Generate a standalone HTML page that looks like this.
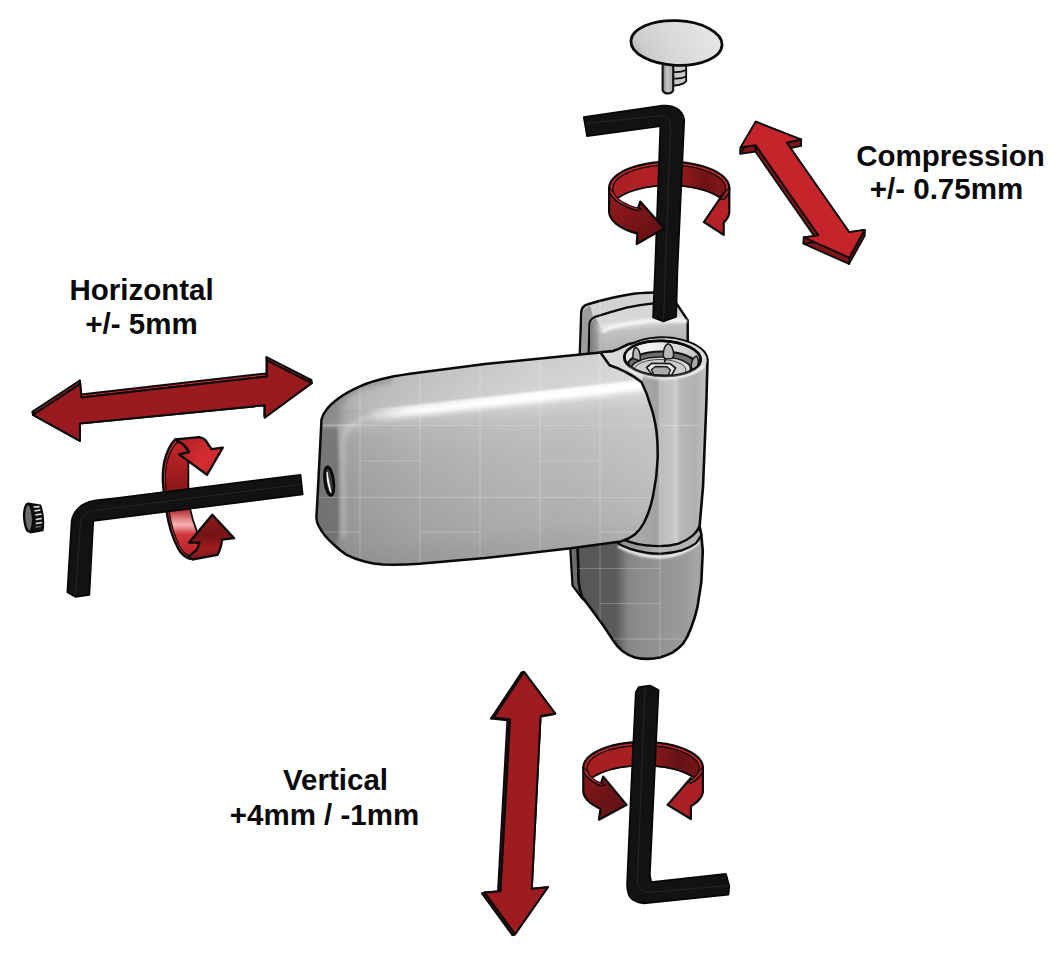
<!DOCTYPE html>
<html>
<head>
<meta charset="utf-8">
<title>Hinge adjustment</title>
<style>
html,body{margin:0;padding:0;background:#fff;}
body{width:1061px;height:961px;overflow:hidden;}
svg{display:block;}
.lbl{font-family:"Liberation Sans",sans-serif;font-weight:bold;font-size:29.5px;fill:#0a0a0a;text-anchor:middle;}
</style>
</head>
<body>
<svg width="1061" height="961" viewBox="0 0 1061 961">
<defs>
  <filter id="b1" x="-20%" y="-20%" width="140%" height="140%"><feGaussianBlur stdDeviation="0.9"/></filter>
  <filter id="b15" x="-30%" y="-30%" width="160%" height="160%"><feGaussianBlur stdDeviation="1.4"/></filter>
  <filter id="b2" x="-30%" y="-30%" width="160%" height="160%"><feGaussianBlur stdDeviation="2.2"/></filter>
  <filter id="b3" x="-30%" y="-30%" width="160%" height="160%"><feGaussianBlur stdDeviation="4"/></filter>
  <path id="leafPath" d="M600.4,352.6 L485,364.1 L419.5,372.6 Q400,375 385.1,378.3 Q371,381.5 360,386.3 Q348,391.5 339.3,397.8 Q331,404 326.8,409.2 Q322.5,414.5 321.5,419.5 L318.7,474.5 L316.4,518 Q316.8,522.5 318.7,526 Q324,536.5 334.8,545.5 Q340,550.5 346.2,554.6 Q354,558.8 364.5,561.5 Q373,563.8 382.9,564.5 Q400,565 419.5,563.8 L485,558.1 L570.7,548.2 L621,541.4 Q629,539 634.8,534.5 Q640,530 643.9,523 Q650,511 653.1,495.6 Q657,477 657.6,459 Q658,444 656.5,431.5 Q654.5,417 650.8,406.4 Q647,393 641.6,382.3 Q634,376 625.6,372 Q617,367.5 609.6,365.2 Z"/>
  <clipPath id="cLeaf"><use href="#leafPath"/></clipPath>
  <clipPath id="cHingeR"><path d="M623.1,356.3 A42.3,21 3 0 1 707.5,360.7 L706.3,405 L703,487 L699.6,526 Q697,533.6 685.5,542 Q676,546.7 666.8,546.7 Q652,547 638.7,544.8 Q630,543 623.7,540 L640,480 Z"/><path d="M579.8,356 L581.3,311.5 Q582,305.8 588,304.3 Q600,300.5 612.4,297.7 Q624,295 633.6,293.7 Q645,292.3 667,292.2 L676.6,303.9 L687.6,320.4 L687.6,356 Z"/><path d="M577.5,540 L578.7,582.4 Q579.5,590 581.9,596.5 L591.2,609 L603.7,626.1 L613.1,640.2 Q617,646.5 622.4,651.1 Q628,655.5 634.9,657.4 Q641,658.9 647.4,658.9 Q654,658.6 659.9,657.4 Q667,655.5 672.4,652.7 Q678.5,648.8 683.3,643.3 Q688,636.5 691.1,627.7 Q695,618 697.4,607.4 L701.3,582.4 L702.8,551.2 L701.3,534.8 L699.6,526 L640,526 Z"/></clipPath>
  <clipPath id="cBore"><ellipse cx="662.5" cy="358.4" rx="38.2" ry="17.5" transform="rotate(2.5 662.5 358.4)"/></clipPath>
  <clipPath id="cLow"><path d="M577.5,540 L578.7,582.4 Q579.5,590 581.9,596.5 L591.2,609 L603.7,626.1 L613.1,640.2 Q617,646.5 622.4,651.1 Q628,655.5 634.9,657.4 Q641,658.9 647.4,658.9 Q654,658.6 659.9,657.4 Q667,655.5 672.4,652.7 Q678.5,648.8 683.3,643.3 Q688,636.5 691.1,627.7 Q695,618 697.4,607.4 L701.3,582.4 L702.8,551.2 L701.3,534.8 L699.6,526 L640,526 Z"/></clipPath>
  <linearGradient id="gLeaf" gradientUnits="userSpaceOnUse" x1="470" y1="367.5" x2="491" y2="558">
    <stop offset="0" stop-color="#cecece"/>
    <stop offset="0.155" stop-color="#d4d4d4"/>
    <stop offset="0.17" stop-color="#f8f8f8"/>
    <stop offset="0.195" stop-color="#ffffff"/>
    <stop offset="0.215" stop-color="#e8e8e8"/>
    <stop offset="0.245" stop-color="#cfcfcf"/>
    <stop offset="0.30" stop-color="#c3c3c3"/>
    <stop offset="0.45" stop-color="#bbbbbb"/>
    <stop offset="0.65" stop-color="#b5b5b5"/>
    <stop offset="0.85" stop-color="#adadad"/>
    <stop offset="0.95" stop-color="#a5a5a5"/>
    <stop offset="0.985" stop-color="#a3a3a3"/>
    <stop offset="1" stop-color="#b8b8b8"/>
  </linearGradient>
  <linearGradient id="gLeafL" gradientUnits="userSpaceOnUse" x1="320" y1="0" x2="540" y2="0">
    <stop offset="0" stop-color="#000" stop-opacity="0.2"/>
    <stop offset="0.18" stop-color="#000" stop-opacity="0.13"/>
    <stop offset="0.4" stop-color="#000" stop-opacity="0.08"/>
    <stop offset="0.7" stop-color="#000" stop-opacity="0.035"/>
    <stop offset="1" stop-color="#000" stop-opacity="0"/>
  </linearGradient>
  <linearGradient id="gHLw" gradientUnits="userSpaceOnUse" x1="366" y1="0" x2="425" y2="0">
    <stop offset="0" stop-color="#fff" stop-opacity="0"/>
    <stop offset="0.5" stop-color="#fff" stop-opacity="0.55"/>
    <stop offset="1" stop-color="#fff" stop-opacity="1"/>
  </linearGradient>
  <linearGradient id="gHLfade" gradientUnits="userSpaceOnUse" x1="340" y1="0" x2="404" y2="0">
    <stop offset="0" stop-color="#a8a8a8" stop-opacity="1"/>
    <stop offset="0.45" stop-color="#b4b4b4" stop-opacity="0.85"/>
    <stop offset="0.78" stop-color="#c8c8c8" stop-opacity="0.4"/>
    <stop offset="1" stop-color="#d4d4d4" stop-opacity="0"/>
  </linearGradient>
  <linearGradient id="gLeafR" gradientUnits="userSpaceOnUse" x1="560" y1="0" x2="660" y2="0">
    <stop offset="0" stop-color="#fff" stop-opacity="0"/>
    <stop offset="1" stop-color="#fff" stop-opacity="0.16"/>
  </linearGradient>
  <linearGradient id="gCyl" gradientUnits="userSpaceOnUse" x1="622" y1="0" x2="709" y2="0">
    <stop offset="0" stop-color="#b0b0b0"/>
    <stop offset="0.40" stop-color="#a2a2a2"/>
    <stop offset="0.45" stop-color="#bcbcbc"/>
    <stop offset="0.57" stop-color="#c5c5c5"/>
    <stop offset="0.62" stop-color="#d0d0d0"/>
    <stop offset="0.67" stop-color="#b7b7b7"/>
    <stop offset="0.85" stop-color="#b1b1b1"/>
    <stop offset="0.93" stop-color="#bbbbbb"/>
    <stop offset="1" stop-color="#c4c4c4"/>
  </linearGradient>
  <linearGradient id="gLow" gradientUnits="userSpaceOnUse" x1="577" y1="0" x2="704" y2="0">
    <stop offset="0" stop-color="#565656"/>
    <stop offset="0.31" stop-color="#5b5b5b"/>
    <stop offset="0.40" stop-color="#848484"/>
    <stop offset="0.5" stop-color="#8d8d8d"/>
    <stop offset="0.65" stop-color="#939393"/>
    <stop offset="0.85" stop-color="#9b9b9b"/>
    <stop offset="0.95" stop-color="#a6a6a6"/>
    <stop offset="1" stop-color="#9a9a9a"/>
  </linearGradient>
  <linearGradient id="gRim" gradientUnits="userSpaceOnUse" x1="617" y1="0" x2="702" y2="0">
    <stop offset="0" stop-color="#8e8e8e"/>
    <stop offset="0.4" stop-color="#a4a4a4"/>
    <stop offset="0.55" stop-color="#b6b6b6"/>
    <stop offset="1" stop-color="#b0b0b0"/>
  </linearGradient>
  <linearGradient id="gPlate" gradientUnits="userSpaceOnUse" x1="630" y1="305" x2="636" y2="356">
    <stop offset="0" stop-color="#d9d9d9"/>
    <stop offset="0.26" stop-color="#d5d5d5"/>
    <stop offset="0.36" stop-color="#e6e6e6"/>
    <stop offset="0.5" stop-color="#c0c0c0"/>
    <stop offset="1" stop-color="#acacac"/>
  </linearGradient>
  <linearGradient id="gPlateL" gradientUnits="userSpaceOnUse" x1="590" y1="0" x2="604" y2="0">
    <stop offset="0" stop-color="#767676"/>
    <stop offset="0.5" stop-color="#8e8e8e" stop-opacity="0.7"/>
    <stop offset="1" stop-color="#b0b0b0" stop-opacity="0"/>
  </linearGradient>
  <linearGradient id="gBore" gradientUnits="userSpaceOnUse" x1="624" y1="0" x2="701" y2="0">
    <stop offset="0" stop-color="#e2e2e2"/>
    <stop offset="0.35" stop-color="#f4f4f4"/>
    <stop offset="0.6" stop-color="#dedede"/>
    <stop offset="1" stop-color="#c2c2c2"/>
  </linearGradient>
  <linearGradient id="gCap" gradientUnits="userSpaceOnUse" x1="640" y1="62" x2="710" y2="22">
    <stop offset="0" stop-color="#b4b4b4"/>
    <stop offset="0.12" stop-color="#cdcdcd"/>
    <stop offset="0.5" stop-color="#dadada"/>
    <stop offset="1" stop-color="#e6e6e6"/>
  </linearGradient>
  <linearGradient id="gStem" gradientUnits="userSpaceOnUse" x1="662" y1="0" x2="674" y2="0">
    <stop offset="0" stop-color="#7c7c7c"/><stop offset="0.45" stop-color="#c6c6c6"/><stop offset="1" stop-color="#9a9a9a"/>
  </linearGradient>
  <linearGradient id="gRingL" gradientUnits="userSpaceOnUse" x1="0" y1="440" x2="0" y2="558">
    <stop offset="0" stop-color="#c4252a"/>
    <stop offset="0.2" stop-color="#ad1f23"/>
    <stop offset="0.42" stop-color="#8c181b"/>
    <stop offset="0.58" stop-color="#a51e22"/>
    <stop offset="0.68" stop-color="#ea8e8e"/>
    <stop offset="0.72" stop-color="#f3b4b4"/>
    <stop offset="0.8" stop-color="#d0353a"/>
    <stop offset="1" stop-color="#b32024"/>
  </linearGradient>
  <linearGradient id="gRingLT" gradientUnits="userSpaceOnUse" x1="185" y1="445" x2="215" y2="470">
    <stop offset="0" stop-color="#b92227"/><stop offset="0.5" stop-color="#d32b31"/><stop offset="1" stop-color="#cf2a2f"/>
  </linearGradient>
  <linearGradient id="gRingLB" gradientUnits="userSpaceOnUse" x1="0" y1="515" x2="0" y2="560">
    <stop offset="0" stop-color="#8e191c"/><stop offset="0.45" stop-color="#741417"/><stop offset="0.75" stop-color="#9e1c20"/><stop offset="1" stop-color="#801619"/>
  </linearGradient>
  <linearGradient id="gRingT" gradientUnits="userSpaceOnUse" x1="608" y1="0" x2="729" y2="0">
    <stop offset="0" stop-color="#a81f22"/>
    <stop offset="0.45" stop-color="#b42125"/>
    <stop offset="0.8" stop-color="#6e1316"/>
    <stop offset="1" stop-color="#8a171a"/>
  </linearGradient>
  <linearGradient id="gRingB" gradientUnits="userSpaceOnUse" x1="583" y1="0" x2="703" y2="0">
    <stop offset="0" stop-color="#a81f22"/>
    <stop offset="0.4" stop-color="#a81f22"/>
    <stop offset="0.8" stop-color="#641215"/>
    <stop offset="1" stop-color="#7a1518"/>
  </linearGradient>
  <linearGradient id="gFLT" gradientUnits="userSpaceOnUse" x1="610" y1="195" x2="660" y2="235">
    <stop offset="0" stop-color="#951b1e"/><stop offset="0.5" stop-color="#7c1518"/><stop offset="1" stop-color="#621114"/>
  </linearGradient>
  <linearGradient id="gFLB" gradientUnits="userSpaceOnUse" x1="584" y1="775" x2="625" y2="812">
    <stop offset="0" stop-color="#8c181b"/><stop offset="0.5" stop-color="#6f1417"/><stop offset="1" stop-color="#5e1113"/>
  </linearGradient>
</defs>
<rect width="1061" height="961" fill="#fff"/>

<g id="hinge" stroke-linejoin="round">
  <!-- back plate top -->
  <path d="M579.8,356 L581.3,311.5 Q582,305.8 588,304.3 Q600,300.5 612.4,297.7 Q624,295 633.6,293.7 Q645,292.3 667,292.2 L676.6,303.9 L687.6,320.4 L687.6,356 Z" fill="#d2d2d2" stroke="#0a0a0a" stroke-width="2.5"/>
  <path d="M581.3,356 L582.5,313 Q584,307 590.5,306 L593,317 Q590,319 589.6,323 L588.6,356 Z" fill="#9c9c9c"/>
  <path d="M588.6,356 L589.5,323.5 Q590,319 596,316.6 Q610,312 626.6,307.6 Q640,304.7 653.4,303.3 L676.6,303.9 L687.6,320.4 L687.6,356 Z" fill="url(#gPlate)" stroke="#0a0a0a" stroke-width="2.2"/>
  <path d="M589.8,356 L590.6,324 Q591,320.5 596,318.5 L604,332 L603,356 Z" fill="url(#gPlateL)"/>
  <path d="M603,331.5 Q606,329 614,326.8 Q632,322.5 654.8,320.3 L686,321" fill="none" stroke="#f6f6f6" stroke-width="3" stroke-linecap="round" filter="url(#b1)"/>

  <!-- lower frame part -->
  <path d="M570.1,546 L572.5,585.6 L581.9,598 L585,601 L579,583 L577.5,546 Z" fill="#6c6c6c" stroke="#0a0a0a" stroke-width="2.2"/>
  <path d="M577.5,540 L578.7,582.4 Q579.5,590 581.9,596.5 L591.2,609 L603.7,626.1 L613.1,640.2 Q617,646.5 622.4,651.1 Q628,655.5 634.9,657.4 Q641,658.9 647.4,658.9 Q654,658.6 659.9,657.4 Q667,655.5 672.4,652.7 Q678.5,648.8 683.3,643.3 Q688,636.5 691.1,627.7 Q695,618 697.4,607.4 L701.3,582.4 L702.8,551.2 L701.3,534.8 L699.6,526 L640,526 Z" fill="url(#gLow)" stroke="#0a0a0a" stroke-width="2.6"/>
  <g clip-path="url(#cLow)">
    <path d="M618,546 Q640,557.5 662,557 Q684,555 699,542" fill="none" stroke="#f4f4f4" stroke-width="3" filter="url(#b1)"/>
  </g>

  <!-- cylinder -->
  <path d="M623.1,356.3 A42.3,21 3 0 1 707.5,360.7 L706.3,405 L703,487 L699.6,526 Q697,533.6 685.5,542 Q676,546.7 666.8,546.7 Q652,547 638.7,544.8 Q630,543 623.7,540 L640,480 Z" fill="url(#gCyl)" stroke="#0a0a0a" stroke-width="2.6"/>
  <!-- rim ring under cylinder -->
  <path d="M621,538 Q625,540.5 628.7,541.6 Q637,544.5 645.9,545.4 Q653,546.2 659.9,546.2 Q670,546 678.6,543.6 Q686,541 692.7,535.6 Q696.5,532.5 699.3,527.5 L701.3,534.8 Q699,539.5 695.8,543.4 Q689.5,548 681.8,550.4 Q672,553.2 661.5,553.6 Q654,553.8 647.4,552.8 Q638,551.5 630.2,548.9 Q623,546.5 617.8,543.4 Z" fill="url(#gRim)" stroke="#0a0a0a" stroke-width="2.2"/>

  <!-- collar between leaf top and cylinder ring -->
  <path d="M600,352.3 L612.9,351.1 Q618,349.5 622.7,346.8 Q628,343.5 634.6,342.8 L650,350 L641.6,382.3 L625.6,372 L609.6,365.2 Z" fill="#d9d9d9"/>
  <path d="M600,352.3 L612.9,351.1 Q618,349.5 622.7,346.8 Q628,343.8 634.6,342.8" fill="none" stroke="#0a0a0a" stroke-width="2.6" stroke-linecap="round"/>
  <path d="M634.6,342.8 A42.3,21 3 0 1 707.5,360.7" fill="none" stroke="#0a0a0a" stroke-width="2.1"/>

  <!-- leaf -->
  <g clip-path="url(#cLeaf)">
    <rect x="300" y="340" width="370" height="240" fill="url(#gLeaf)"/>
    <rect x="540" y="340" width="130" height="240" fill="url(#gLeafR)"/>
    <!-- left darkening -->
    <rect x="300" y="340" width="240" height="240" fill="url(#gLeafL)"/>
    <!-- highlight fades toward left -->
    <path d="M322,421.5 L404,411.4" fill="none" stroke="url(#gHLfade)" stroke-width="18" filter="url(#b1)"/>
    <!-- left end cap shading -->
    <path d="M300,429 L337.5,427 Q340.2,480 338.8,533 L335,556 L300,565 Z" fill="#5e5e5e" opacity="0.62" filter="url(#b15)"/>
    <path d="M300,396 L352,388 Q342,400 338.5,428 L300,430 Z" fill="#707070" opacity="0.5" filter="url(#b3)"/>
    <!-- top-left corner darker -->
    <path d="M319,424 Q326,404 348,392 Q366,384 392,378.5" fill="none" stroke="#8a8a8a" stroke-width="8" opacity="0.5" filter="url(#b2)"/>
    <!-- edge highlight between cap and front -->
    <path d="M380,415 Q360,418 350,427 Q343,433 342.5,446 L343.5,538" fill="none" stroke="#fff" stroke-width="5" opacity="0.24" filter="url(#b2)"/>
    <!-- highlight brighter toward the cylinder -->
    <path d="M366,417 L396,413 L560,394.6 Q610,389 642,384" fill="none" stroke="url(#gHLw)" stroke-width="7.5" opacity="0.85" filter="url(#b2)"/>
  </g>
  <g clip-path="url(#cLeaf)" stroke="#fff" stroke-width="0.8" opacity="0.32" fill="none">
    <path d="M360,340V600M420,340V600M480,340V600M540,340V600M600,340V600M660,340V600"/>
    <path d="M300,425.4H670M300,497.5H670" opacity="0.8"/>
    <path d="M360,461H420M540,461H600M420,532H480M600,532H660M300,532H360"/>
  </g>
  <use href="#leafPath" fill="none" stroke="#0a0a0a" stroke-width="2.5"/>

  <g id="gridR" clip-path="url(#cHingeR)" stroke="#fff" stroke-width="0.8" opacity="0.32" fill="none">
    <path d="M600,290V360M660,380V660M600,545V640"/>
    <path d="M600,318.2H660M570,568.4H660M600,603.6H660M613,639H686M660,425.4H700"/>
  </g>
  <!-- hole in leaf end -->
  <g transform="rotate(-7.5 329.2 481.2)">
    <ellipse cx="329.2" cy="481.2" rx="4.3" ry="14.3" fill="#3e3e3e" stroke="#0a0a0a" stroke-width="2.9"/>
    <path d="M327.7,471.5 Q326.3,481 328,489.5 Q328.8,493 330.2,493.6 Q329.6,488 329.2,482 Q328.8,476 328.9,471.8 Z" fill="#fdfdfd"/>
  </g>

  <!-- cylinder top details -->
  <g id="cyltop">
    <ellipse cx="665.3" cy="358.5" rx="41.5" ry="20.2" transform="rotate(3 665.3 358.5)" fill="#dbdbdb"/>
    <ellipse cx="662.5" cy="358.4" rx="38.2" ry="17.5" transform="rotate(2.5 662.5 358.4)" fill="url(#gBore)" stroke="#0a0a0a" stroke-width="2.4"/>
    <g clip-path="url(#cBore)">
      <ellipse cx="662" cy="365.5" rx="34.5" ry="14" fill="#6e6e6e" stroke="#111" stroke-width="2.2"/>
      <ellipse cx="661" cy="368.5" rx="29.5" ry="11.5" fill="#dcdcdc" stroke="#1a1a1a" stroke-width="1.6"/>
      <ellipse cx="660" cy="370" rx="26" ry="10.5" fill="#cdcdcd" stroke="#444" stroke-width="1"/>
      <!-- hex nut -->
      <path d="M646.6,367.5 L652,363.2 L670,363.6 L675.6,368 L671.5,375.3 L652.5,375.3 Z" fill="#e9e9e9" stroke="#1a1a1a" stroke-width="1.6"/>
      <path d="M651.5,369.5 L655.5,366.5 L667,366.8 L670.5,370 L668,375.5 L654,375.5 Z" fill="#a9a9a9" stroke="#1a1a1a" stroke-width="1.4"/>
      <path d="M664.5,362.5 L666.5,356" stroke="#1a1a1a" stroke-width="1.8" fill="none"/>
      <!-- prongs -->
      <path d="M633,358.5 Q632.2,349 636,347.3 Q640,349.5 640.4,357.5 L640,361 Z" fill="#b5b5b5" stroke="#1a1a1a" stroke-width="1.5"/>
      <path d="M663.3,356.5 Q663,345.5 668.3,343.8 Q673.5,345.5 673.6,356 L672,358.5 L665,358.8 Z" fill="#b9b9b9" stroke="#1a1a1a" stroke-width="1.5"/>
      <path d="M691,367 Q691.5,358 696.5,356 Q699.5,359.5 697.5,367 L694.5,371 Z" fill="#a9a9a9" stroke="#1a1a1a" stroke-width="1.5"/>
    </g>
    <ellipse cx="662.5" cy="358.4" rx="38.2" ry="17.5" transform="rotate(2.5 662.5 358.4)" fill="none" stroke="#0a0a0a" stroke-width="2.6"/>
    <!-- front rim soft highlight -->
    <path d="M628,368 Q640,377.5 663,378.6 Q690,378 704,366" fill="none" stroke="#f2f2f2" stroke-width="2.2" filter="url(#b1)"/>
  </g>
</g>



<!-- ===== cap (top) ===== -->
<g id="cap" stroke="#0a0a0a" stroke-linejoin="round">
  <path d="M673.2,65 L686.2,65 L686.2,81 Q684,84.5 675,85.5 L673.2,85.5 Z" fill="#c9c9c9" stroke-width="1.8"/>
  <path d="M673.5,72 Q681,72.5 686,70 M673.5,78.5 Q681,79 686,76.5" fill="none" stroke-width="1.6"/>
  <path d="M662.6,63 L662.6,90.5 Q664,93.5 668,93.6 Q672,93.5 673.2,90.5 L673.2,63 Z" fill="url(#gStem)" stroke-width="2"/>
  <ellipse cx="676.5" cy="43" rx="45.6" ry="22.3" transform="rotate(2.5 676.5 43)" fill="url(#gCap)" stroke-width="2.8"/>
</g>

<!-- ===== top rotation ring (back part) ===== -->
<g stroke-linejoin="round"><path d="M609.1,188.0 L609.6,184.6 L611.1,181.2 L613.7,178.0 L617.2,174.9 L621.5,172.1 L626.7,169.5 L632.6,167.2 L639.1,165.3 L646.2,163.8 L653.6,162.7 L661.4,162.0 L669.2,161.8 L677.0,162.0 L684.8,162.7 L692.2,163.8 L699.2,165.3 L705.8,167.2 L711.7,169.5 L716.9,172.1 L721.2,174.9 L724.7,178.0 L727.3,181.2 L728.8,184.6 L729.3,188.0 L729.3,188.0 L728.9,191.0 L727.7,194.0 L725.7,196.9 L723.0,199.7 L723.0,199.7 L720.3,197.6 L717.1,195.6 L713.6,193.7 L709.7,192.0 L705.4,190.5 L700.8,189.1 L696.0,187.9 L690.9,187.0 L685.6,186.2 L680.2,185.6 L674.7,185.3 L669.2,185.2 L663.7,185.3 L658.2,185.6 L652.8,186.2 L647.5,187.0 L642.4,187.9 L637.6,189.1 L633.0,190.5 L628.7,192.0 L624.8,193.7 L621.3,195.6 L618.1,197.6 L615.4,199.7 L615.4,199.7 L612.7,196.9 L610.7,194.0 L609.5,191.0 L609.1,188.0 Z" fill="#c9282d" stroke="#0a0a0a" stroke-width="2.2"/>
<path d="M612.7,188.6 L613.2,185.5 L614.6,182.5 L617.0,179.6 L620.3,176.8 L624.4,174.3 L629.2,172.0 L634.8,170.0 L641.0,168.2 L647.6,166.9 L654.6,165.9 L661.8,165.3 L669.2,165.1 L676.6,165.3 L683.8,165.9 L690.8,166.9 L697.5,168.2 L703.6,170.0 L709.2,172.0 L714.0,174.3 L718.1,176.8 L721.4,179.6 L723.8,182.5 L725.2,185.5 L725.7,188.6 L723.0,199.7 L723.0,199.7 L720.3,197.6 L717.1,195.6 L713.6,193.7 L709.7,192.0 L705.4,190.5 L700.8,189.1 L696.0,187.9 L690.9,187.0 L685.6,186.2 L680.2,185.6 L674.7,185.3 L669.2,185.2 L663.7,185.3 L658.2,185.6 L652.8,186.2 L647.5,187.0 L642.4,187.9 L637.6,189.1 L633.0,190.5 L628.7,192.0 L624.8,193.7 L621.3,195.6 L618.1,197.6 L615.4,199.7 L615.4,199.7 Z" fill="url(#gRingT)" stroke="#0a0a0a" stroke-width="1.3"/></g>

<!-- ===== allen key top ===== -->
<g id="keyT" stroke="#050505" stroke-width="1.6" stroke-linejoin="round" fill="#121212">
  <path d="M583.7,117 L662.3,105.5 Q672,105 677.3,108.7 Q683.5,113 684.3,120 L677.5,270 L676.2,316.8 L663.5,321.6 L653,317.6 L655,270 L660.3,126.2 L587,136.2 Z"/>
  <path d="M585.5,123.5 L662,115.5 Q670.5,116 670.5,127 L663.5,321" fill="none" stroke="#262626" stroke-width="1"/>
</g>

<g stroke-linejoin="round"><path d="M609.1,188.0 L609.4,190.6 L610.3,193.3 L611.9,195.8 L614.0,198.3 L616.6,200.7 L619.8,203.0 L623.6,205.1 L627.8,207.0 L632.4,208.7 L637.4,210.2 L640.2,201.6 L664.3,228.4 L636.7,244.0 L637.4,233.6 L632.4,232.1 L627.8,230.4 L623.6,228.5 L619.8,226.4 L616.6,224.1 L614.0,221.7 L611.9,219.2 L610.3,216.7 L609.4,214.0 L609.1,211.4 Z" fill="url(#gFLT)" stroke="#0a0a0a" stroke-width="2.2"/>
<path d="M609.1,188.0 L609.4,190.6 L610.3,193.3 L611.9,195.8 L614.0,198.3 L616.6,200.7 L619.8,203.0 L623.6,205.1 L627.8,207.0 L632.4,208.7 L637.4,210.2 L641.8,209.2 L637.4,208.0 L633.2,206.7 L629.3,205.2 L625.8,203.6 L622.6,201.9 L619.9,200.1 L617.5,198.1 L615.7,196.1 L614.2,194.0 L613.2,191.9 Z" fill="#c9282d" stroke="#0a0a0a" stroke-width="1.1"/>
<path d="M729.3,188.0 L729.2,189.1 L729.1,190.3 L728.8,191.4 L728.4,192.5 L727.9,193.7 L727.3,194.8 L726.5,195.9 L725.7,197.0 L724.7,198.0 L723.7,199.1 L723.7,193.0 L703.9,222.0 L723.7,234.8 L723.7,222.5 L724.7,221.4 L725.7,220.4 L726.5,219.3 L727.3,218.2 L727.9,217.1 L728.4,215.9 L728.8,214.8 L729.1,213.7 L729.2,212.5 L729.3,211.4 Z" fill="#b52226" stroke="#0a0a0a" stroke-width="2.2"/>
<path d="M729.3,188.0 L729.2,189.1 L729.1,190.3 L728.8,191.4 L728.4,192.5 L727.9,193.7 L727.3,194.8 L726.5,195.9 L725.7,197.0 L724.7,198.0 L723.7,199.1 L719.1,199.6 L720.0,198.9 L720.8,198.2 L721.6,197.4 L722.3,196.6 L722.9,195.9 L723.5,195.1 L724.0,194.3 L724.5,193.5 L724.8,192.7 L725.2,191.9 Z" fill="#c9282d" stroke="#0a0a0a" stroke-width="1.1"/></g>

<!-- ===== compression arrow ===== -->
<g stroke="#0a0a0a" stroke-width="1.8" stroke-linejoin="round"><polygon points="755.7,121.7 801.2,139.5 800.9,145.9 755.4,128.1" fill="#7f1518"/>
<polygon points="801.2,139.5 786.6,142.6 786.3,149.0 800.9,145.9" fill="#7f1518"/>
<polygon points="786.6,142.6 849.3,232.2 849.0,238.6 786.3,149.0" fill="#7f1518"/>
<polygon points="849.3,232.2 864.7,229.8 864.4,236.2 849.0,238.6" fill="#7f1518"/>
<polygon points="864.7,229.8 849.3,257.6 849.0,264.0 864.4,236.2" fill="#7f1518"/>
<polygon points="849.3,257.6 803.8,237.3 803.5,243.7 849.0,264.0" fill="#7f1518"/>
<polygon points="803.8,237.3 818.4,235.3 818.1,241.7 803.5,243.7" fill="#7f1518"/>
<polygon points="818.4,235.3 755.7,145.2 755.4,151.6 818.1,241.7" fill="#7f1518"/>
<polygon points="755.7,145.2 740.6,147.4 740.3,153.8 755.4,151.6" fill="#7f1518"/>
<polygon points="740.6,147.4 755.7,121.7 755.4,128.1 740.3,153.8" fill="#7f1518"/>
<polygon points="755.7,121.7 801.2,139.5 786.6,142.6 849.3,232.2 864.7,229.8 849.3,257.6 803.8,237.3 818.4,235.3 755.7,145.2 740.6,147.4" fill="#c4242a"/></g>

<!-- ===== horizontal arrow ===== -->
<g stroke="#0a0a0a" stroke-width="2.0" stroke-linejoin="round"><polygon points="33.0,414.8 80.2,383.8 79.8,380.6 32.6,411.6" fill="#d02a2f"/>
<polygon points="80.2,383.8 81.4,397.6 81.0,394.4 79.8,380.6" fill="#d02a2f"/>
<polygon points="81.4,397.6 266.9,376.6 266.5,373.4 81.0,394.4" fill="#d02a2f"/>
<polygon points="266.9,376.6 266.9,360.4 266.5,357.2 266.5,373.4" fill="#d02a2f"/>
<polygon points="266.9,360.4 311.6,383.2 311.2,380.0 266.5,357.2" fill="#d02a2f"/>
<polygon points="311.6,383.2 264.8,417.5 264.4,414.3 311.2,380.0" fill="#d02a2f"/>
<polygon points="264.8,417.5 264.8,405.3 264.4,402.1 264.4,414.3" fill="#d02a2f"/>
<polygon points="264.8,405.3 79.9,423.6 79.5,420.4 264.4,402.1" fill="#d02a2f"/>
<polygon points="79.9,423.6 79.9,440.8 79.5,437.6 79.5,420.4" fill="#d02a2f"/>
<polygon points="79.9,440.8 33.0,414.8 32.6,411.6 79.5,437.6" fill="#d02a2f"/>
<polygon points="33.0,414.8 80.2,383.8 81.4,397.6 266.9,376.6 266.9,360.4 311.6,383.2 264.8,417.5 264.8,405.3 79.9,423.6 79.9,440.8" fill="#9a1b1f"/></g>

<!-- ===== left rotation ring ===== -->
<g id="ringL" stroke="#0a0a0a" stroke-width="2.3" stroke-linejoin="round">
  <path d="M175.3,439.3 Q168,446 164,462.7 Q162,475 163.2,485.4 Q163.5,498 166.2,509.5 Q168,521 170.8,530.7 Q174,541 178.3,548.8 Q182,555 187.4,557.8 L193.4,559.3 Q197,553 199.4,542.7 L196.4,530.7 Q192,520 190.4,511 Q188,498 188.1,485.4 L188.1,458.2 L188.9,452.2 L181.3,443.1 Z" fill="#cb292e"/>
  <path d="M177.3,442.3 Q170.3,449 166.6,463.2 Q164.8,475 165.8,485.4 Q166.2,498 168.8,509.5 Q170.6,521 173.4,530.7 Q176.6,541 180.6,548 Q184,553.5 188.8,556.3 L193.4,559.3 Q197,553 199.4,542.7 L196.4,530.7 Q192,520 190.4,511 Q188,498 188.1,485.4 L188.1,458.2 L188.9,452.2 L181.3,443.1 Z" fill="url(#gRingL)" stroke-width="1.2"/>
  <path d="M175.3,439.3 L199.4,437.1 Q203,438 205.5,440.1 L211.5,449.2 L222.8,447.6 L207,474.8 L179.1,454.4 L188.9,452.2 Q186,446 181.3,443.1 Z" fill="url(#gRingLT)"/>
</g>

<!-- ===== allen key left ===== -->
<g id="keyL" stroke="#050505" stroke-width="1.6" stroke-linejoin="round" fill="#121212">
  <path d="M300.6,474.8 L118.7,497.7 L95.8,500.2 Q84,502 78.5,508 Q72.5,514 71.6,521 L67.3,592.3 L75.4,596.9 L89.4,594.9 L93.3,521 L302.7,494.4 Z"/>
  <path d="M302,484.2 L94.5,510.4 Q82,512.5 80.5,523 L75.4,596.5" fill="none" stroke="#262626" stroke-width="1"/>
</g>
<!-- left ring bottom arrow (front) -->
<g stroke="#0a0a0a" stroke-width="2.3" stroke-linejoin="round">
  <path d="M212.3,514.8 L234.2,538.2 L222.1,539.7 Q221,549 217.5,554.8 L193.4,559.3 L187.4,557.8 Q194,552 196.4,550.3 Q198.5,547 199.4,542.7 L188.9,542.7 Z" fill="url(#gRingLB)"/>
</g>

<!-- knob -->
<g id="knob" stroke-linejoin="round">
  <path d="M28,503.2 L40.5,505.2 Q44.8,518 42.8,530.5 L30.5,532.6 Z" fill="#111" stroke="#0a0a0a" stroke-width="1.6"/>
  <path d="M33.5,507 L39.5,506.6 M34.5,511 L40.3,510 M35.3,515 L41.5,514 M35.8,519.5 L41.8,518.5 M35.8,523.5 L42,522.5" stroke="#e6e6e6" stroke-width="1.7" fill="none"/>
  <path d="M35.3,527.2 L41,526.2" stroke="#666" stroke-width="1.4" fill="none"/>
  <ellipse cx="28.6" cy="517.8" rx="4.4" ry="13.8" transform="rotate(-3 28.6 517.8)" fill="#6c6c6c" stroke="#0a0a0a" stroke-width="2.4"/>
</g>

<!-- ===== vertical arrow ===== -->
<g stroke="#0a0a0a" stroke-width="2.0" stroke-linejoin="round"><polygon points="524.0,671.9 555.2,713.5 552.6,714.4 521.4,672.8" fill="#5a1013"/>
<polygon points="555.2,713.5 540.6,716.0 538.0,716.9 552.6,714.4" fill="#5a1013"/>
<polygon points="540.6,716.0 531.8,888.7 529.2,889.6 538.0,716.9" fill="#5a1013"/>
<polygon points="531.8,888.7 547.8,887.2 545.2,888.1 529.2,889.6" fill="#5a1013"/>
<polygon points="547.8,887.2 515.1,934.2 512.5,935.1 545.2,888.1" fill="#5a1013"/>
<polygon points="515.1,934.2 484.6,892.6 482.0,893.5 512.5,935.1" fill="#5a1013"/>
<polygon points="484.6,892.6 500.6,891.2 498.0,892.1 482.0,893.5" fill="#5a1013"/>
<polygon points="500.6,891.2 510.0,719.4 507.4,720.3 498.0,892.1" fill="#5a1013"/>
<polygon points="510.0,719.4 493.6,717.6 491.0,718.5 507.4,720.3" fill="#5a1013"/>
<polygon points="493.6,717.6 524.0,671.9 521.4,672.8 491.0,718.5" fill="#5a1013"/>
<polygon points="524.0,671.9 555.2,713.5 540.6,716.0 531.8,888.7 547.8,887.2 515.1,934.2 484.6,892.6 500.6,891.2 510.0,719.4 493.6,717.6" fill="#9d1c20"/></g>

<!-- ===== bottom rotation ring back ===== -->
<g stroke-linejoin="round"><path d="M583.3,767.5 L583.8,764.2 L585.3,760.9 L587.9,757.7 L591.3,754.8 L595.7,752.0 L600.8,749.5 L606.7,747.3 L613.2,745.4 L620.2,743.9 L627.6,742.9 L635.3,742.2 L643.1,742.0 L650.9,742.2 L658.6,742.9 L666.0,743.9 L673.0,745.4 L679.5,747.3 L685.4,749.5 L690.5,752.0 L694.9,754.8 L698.3,757.7 L700.9,760.9 L702.4,764.2 L702.9,767.5 L702.9,767.5 L702.5,770.5 L701.2,773.5 L699.2,776.4 L696.3,779.1 L696.3,779.1 L693.6,777.1 L690.4,775.2 L686.9,773.4 L683.0,771.8 L678.8,770.3 L674.3,769.0 L669.5,767.9 L664.5,767.0 L659.3,766.3 L654.0,765.7 L648.6,765.4 L643.1,765.3 L637.6,765.4 L632.2,765.7 L626.9,766.3 L621.7,767.0 L616.7,767.9 L611.9,769.0 L607.4,770.3 L603.2,771.8 L599.3,773.4 L595.8,775.2 L592.6,777.1 L589.9,779.1 L589.9,779.1 L587.0,776.4 L585.0,773.5 L583.7,770.5 L583.3,767.5 Z" fill="#c9282d" stroke="#0a0a0a" stroke-width="2.2"/>
<path d="M586.9,768.1 L587.4,765.1 L588.8,762.2 L591.2,759.4 L594.4,756.7 L598.5,754.2 L603.4,752.0 L608.9,750.0 L615.0,748.4 L621.6,747.0 L628.6,746.1 L635.8,745.5 L643.1,745.3 L650.4,745.5 L657.6,746.1 L664.6,747.0 L671.2,748.4 L677.3,750.0 L682.8,752.0 L687.7,754.2 L691.8,756.7 L695.0,759.4 L697.4,762.2 L698.8,765.1 L699.3,768.1 L696.3,779.1 L696.3,779.1 L693.6,777.1 L690.4,775.2 L686.9,773.4 L683.0,771.8 L678.8,770.3 L674.3,769.0 L669.5,767.9 L664.5,767.0 L659.3,766.3 L654.0,765.7 L648.6,765.4 L643.1,765.3 L637.6,765.4 L632.2,765.7 L626.9,766.3 L621.7,767.0 L616.7,767.9 L611.9,769.0 L607.4,770.3 L603.2,771.8 L599.3,773.4 L595.8,775.2 L592.6,777.1 L589.9,779.1 L589.9,779.1 Z" fill="url(#gRingB)" stroke="#0a0a0a" stroke-width="1.3"/></g>
<!-- ===== allen key bottom ===== -->
<g id="keyB" stroke="#050505" stroke-width="1.6" stroke-linejoin="round" fill="#121212">
  <path d="M635.7,692.5 L638.7,687 L649.9,685.5 L658.6,690 L649.9,874.7 L651.2,882.1 L726,873.9 L729.3,885.9 L728.5,894.6 L643.7,903.4 Q638,903 634.9,900.9 Q630,898.5 628.7,894.6 Q627,890 627,884.6 L631.2,787.3 Z"/>
  <path d="M645,687 L637.5,880 Q637.5,892 648,892.5 L729,885.5" fill="none" stroke="#262626" stroke-width="1"/>
</g>
<g stroke-linejoin="round"><path d="M583.3,767.5 L583.5,769.5 L584.0,771.4 L584.9,773.4 L586.2,775.3 L587.8,777.2 L589.7,779.0 L591.9,780.7 L594.5,782.3 L597.3,783.9 L600.4,785.4 L603.2,776.6 L626.6,804.9 L599.0,819.7 L600.4,808.7 L597.3,807.2 L594.5,805.6 L591.9,804.0 L589.7,802.3 L587.8,800.5 L586.2,798.6 L584.9,796.7 L584.0,794.7 L583.5,792.8 L583.3,790.8 Z" fill="url(#gFLB)" stroke="#0a0a0a" stroke-width="2.2"/>
<path d="M583.3,767.5 L583.5,769.5 L584.0,771.4 L584.9,773.4 L586.2,775.3 L587.8,777.2 L589.7,779.0 L591.9,780.7 L594.5,782.3 L597.3,783.9 L600.4,785.4 L605.1,784.9 L602.4,783.8 L599.8,782.6 L597.4,781.4 L595.3,780.1 L593.4,778.7 L591.7,777.3 L590.2,775.8 L589.1,774.3 L588.1,772.8 L587.4,771.3 Z" fill="#c9282d" stroke="#0a0a0a" stroke-width="1.1"/>
<path d="M702.9,767.5 L702.8,769.1 L702.4,770.8 L701.8,772.4 L700.9,774.0 L699.8,775.6 L698.5,777.1 L696.9,778.6 L695.1,780.1 L693.1,781.5 L690.9,782.8 L690.9,778.0 L667.6,804.9 L690.9,819.0 L690.9,806.1 L693.1,804.8 L695.1,803.4 L696.9,801.9 L698.5,800.4 L699.8,798.9 L700.9,797.3 L701.8,795.7 L702.4,794.1 L702.8,792.4 L702.9,790.8 Z" fill="#ab2024" stroke="#0a0a0a" stroke-width="2.2"/>
<path d="M702.9,767.5 L702.8,769.1 L702.4,770.8 L701.8,772.4 L700.9,774.0 L699.8,775.6 L698.5,777.1 L696.9,778.6 L695.1,780.1 L693.1,781.5 L690.9,782.8 L686.2,782.8 L688.1,781.8 L689.9,780.7 L691.6,779.6 L693.1,778.5 L694.4,777.4 L695.6,776.2 L696.7,775.0 L697.5,773.8 L698.2,772.5 L698.8,771.3 Z" fill="#c9282d" stroke="#0a0a0a" stroke-width="1.1"/></g>

<!-- ===== labels ===== -->
<text class="lbl" x="950.5" y="165.5">Compression</text>
<text class="lbl" x="946.5" y="198.7">+/- 0.75mm</text>
<text class="lbl" x="141.5" y="300.3">Horizontal</text>
<text class="lbl" x="141.5" y="334">+/- 5mm</text>
<text class="lbl" x="335.5" y="790.4">Vertical</text>
<text class="lbl" x="324.5" y="824.8">+4mm / -1mm</text>
</svg>
</body>
</html>
